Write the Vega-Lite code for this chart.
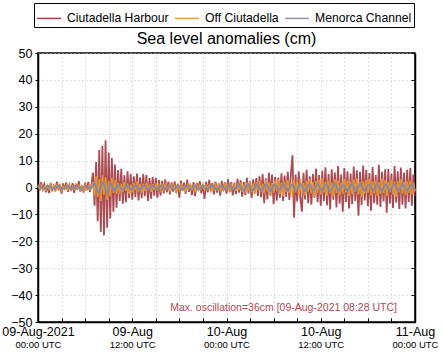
{
"$schema": "https://vega.github.io/schema/vega-lite/v6.json",
"width": 377, "height": 269,
"autosize": {"type": "none"},
"padding": {"left": 38, "top": 53, "right": 29, "bottom": 37},
"background": "white",
"config": {"font": "Liberation Sans", "view": {"stroke": "black", "strokeWidth": 1.5}},
"title": {"text": "Sea level anomalies (cm)", "fontSize": 16, "fontWeight": "normal", "color": "black", "anchor": "middle", "frame": "group", "offset": -44},
"datasets": {
"obs": [
{"h":0,"a":1.4,"b":0.6,"c":0.3},{"h":0.2,"a":-1.1,"b":-0.4,"c":0.6},{"h":0.4,"a":2.0,"b":0.9,"c":0.2},{"h":0.6,"a":-0.6,"b":-0.7,"c":-0.3},{"h":0.8,"a":1.2,"b":0.3,"c":-0.5},
{"h":1.0,"a":-1.8,"b":-0.9,"c":-0.1},{"h":1.2,"a":0.9,"b":0.8,"c":0.4},{"h":1.4,"a":-2.1,"b":-0.5,"c":0.5},{"h":1.6,"a":1.7,"b":1.0,"c":0.1},{"h":1.8,"a":-0.9,"b":-0.3,"c":-0.4},
{"h":2.0,"a":0.6,"b":0.5,"c":-0.6},{"h":2.2,"a":-1.4,"b":-0.8,"c":-0.2},{"h":2.4,"a":2.2,"b":0.7,"c":0.3},{"h":2.6,"a":-1.0,"b":-0.6,"c":0.7},{"h":2.8,"a":1.1,"b":0.9,"c":0.2},
{"h":3.0,"a":-2.3,"b":-1.0,"c":-0.3},{"h":3.2,"a":1.5,"b":0.4,"c":-0.5},{"h":3.4,"a":-0.7,"b":-0.5,"c":0.0},{"h":3.6,"a":1.9,"b":0.8,"c":0.4},{"h":3.8,"a":-1.6,"b":-0.7,"c":0.6},
{"h":4.0,"a":0.8,"b":0.6,"c":0.1},{"h":4.2,"a":-1.2,"b":-0.9,"c":-0.4},{"h":4.4,"a":1.6,"b":0.3,"c":-0.5},{"h":4.6,"a":-2.0,"b":-0.6,"c":-0.1},{"h":4.8,"a":1.3,"b":1.0,"c":0.5},
{"h":5.0,"a":-0.8,"b":-0.4,"c":0.4},{"h":5.2,"a":2.4,"b":0.7,"c":-0.2},{"h":5.4,"a":-1.5,"b":-0.8,"c":-0.6},{"h":5.6,"a":0.7,"b":0.5,"c":-0.3},{"h":5.8,"a":-1.9,"b":-1.1,"c":0.2},
{"h":6.0,"a":1.8,"b":0.9,"c":0.6},{"h":6.2,"a":-1.1,"b":-0.5,"c":0.3},{"h":6.4,"a":2.1,"b":0.6,"c":-0.2},{"h":6.6,"a":-1.7,"b":-0.7,"c":-0.5},{"h":6.8,"a":1.0,"b":0.4,"c":-0.1},
{"h":7.0,"a":5.5,"b":2.0,"c":0.8},{"h":7.2,"a":-6.8,"b":-3.0,"c":1.5},{"h":7.4,"a":9.5,"b":4.2,"c":0.2},{"h":7.6,"a":-12.5,"b":-3.5,"c":-1.4},{"h":7.8,"a":14.0,"b":3.0,"c":-1.8},
{"h":8.0,"a":-16.5,"b":-5.0,"c":0.4},{"h":8.2,"a":15.5,"b":4.5,"c":1.9},{"h":8.4,"a":-17.8,"b":-2.8,"c":1.2},{"h":8.6,"a":17.6,"b":3.8,"c":-0.8},{"h":8.8,"a":-15.0,"b":-4.6,"c":-1.9},
{"h":9.0,"a":13.0,"b":2.4,"c":-0.5},{"h":9.2,"a":-11.5,"b":-3.2,"c":1.4},{"h":9.4,"a":11.0,"b":3.6,"c":1.0},{"h":9.6,"a":-9.0,"b":-2.0,"c":-0.6},{"h":9.8,"a":8.5,"b":2.8,"c":-1.2},
{"h":10.0,"a":-7.5,"b":-2.4,"c":0.3},{"h":10.2,"a":6.5,"b":1.8,"c":0.9},{"h":10.4,"a":-5.0,"b":-2.2,"c":0.5},{"h":10.6,"a":7.0,"b":1.4,"c":-0.5},{"h":10.8,"a":-6.0,"b":-1.6,"c":-0.9},
{"h":11.0,"a":4.5,"b":2.0,"c":-0.2},{"h":11.2,"a":-5.5,"b":-1.2,"c":0.6},{"h":11.4,"a":6.0,"b":1.5,"c":0.8},{"h":11.6,"a":-4.0,"b":-2.4,"c":0.0},{"h":11.8,"a":5.0,"b":1.1,"c":-0.7},
{"h":12.0,"a":-4.5,"b":-1.8,"c":-0.6},{"h":12.2,"a":4.2,"b":1.6,"c":0.2},{"h":12.4,"a":-3.5,"b":-1.0,"c":0.8},{"h":12.6,"a":5.2,"b":2.2,"c":0.4},{"h":12.8,"a":-4.8,"b":-1.5,"c":-0.4},
{"h":13.0,"a":3.8,"b":1.2,"c":-0.8},{"h":13.2,"a":-4.0,"b":-1.9,"c":-0.1},{"h":13.4,"a":5.0,"b":1.4,"c":0.6},{"h":13.6,"a":-3.2,"b":-1.3,"c":0.7},{"h":13.8,"a":4.6,"b":1.8,"c":-0.1},
{"h":14.0,"a":-5.0,"b":-1.1,"c":-0.6},{"h":14.2,"a":3.5,"b":1.0,"c":-0.5},{"h":14.4,"a":-4.2,"b":-1.6,"c":0.3},{"h":14.6,"a":4.0,"b":1.3,"c":0.7},{"h":14.8,"a":-3.0,"b":-0.9,"c":0.2},
{"h":15.0,"a":3.6,"b":1.5,"c":-0.5},{"h":15.2,"a":-3.8,"b":-1.2,"c":-0.7},{"h":15.4,"a":2.8,"b":0.8,"c":0.0},{"h":15.6,"a":-3.0,"b":-1.0,"c":0.6},{"h":15.8,"a":2.5,"b":0.9,"c":0.5},
{"h":16.0,"a":-2.2,"b":-0.7,"c":-0.3},{"h":16.2,"a":3.0,"b":1.1,"c":-0.7},{"h":16.4,"a":-1.8,"b":-0.6,"c":-0.2},{"h":16.6,"a":2.2,"b":0.5,"c":0.4},{"h":16.8,"a":-2.6,"b":-1.2,"c":0.6},
{"h":17.0,"a":1.9,"b":0.8,"c":0.1},{"h":17.2,"a":-1.5,"b":-0.4,"c":-0.5},{"h":17.4,"a":2.3,"b":0.7,"c":-0.6},{"h":17.6,"a":-2.0,"b":-1.5,"c":0.1},{"h":17.8,"a":1.4,"b":0.6,"c":0.7},
{"h":18.0,"a":-3.8,"b":-0.9,"c":0.3},{"h":18.2,"a":2.6,"b":1.2,"c":-0.4},{"h":18.4,"a":-1.2,"b":-0.5,"c":-0.8},{"h":18.6,"a":1.8,"b":0.4,"c":-0.2},{"h":18.8,"a":-2.4,"b":-2.0,"c":0.5},
{"h":19.0,"a":2.9,"b":0.8,"c":0.6},{"h":19.2,"a":-1.6,"b":-0.6,"c":-0.1},{"h":19.4,"a":1.1,"b":1.0,"c":-0.6},{"h":19.6,"a":-2.8,"b":-0.7,"c":-0.4},{"h":19.8,"a":2.0,"b":0.5,"c":0.3},
{"h":20.0,"a":-3.2,"b":-1.8,"c":0.7},{"h":20.2,"a":1.7,"b":0.9,"c":0.2},{"h":20.4,"a":-1.0,"b":-0.8,"c":-0.5},{"h":20.6,"a":2.4,"b":0.6,"c":-0.7},{"h":20.8,"a":-2.2,"b":-0.4,"c":0.0},
{"h":21.0,"a":1.3,"b":1.1,"c":0.6},{"h":21.2,"a":-4.2,"b":-0.9,"c":0.5},{"h":21.4,"a":2.1,"b":0.7,"c":-0.3},{"h":21.6,"a":-1.8,"b":-0.5,"c":-0.6},{"h":21.8,"a":2.8,"b":0.8,"c":-0.1},
{"h":22.0,"a":-1.4,"b":-1.3,"c":0.5},{"h":22.2,"a":1.6,"b":0.4,"c":0.8},{"h":22.4,"a":-2.6,"b":-0.7,"c":0.2},{"h":22.6,"a":2.2,"b":1.0,"c":-0.4},{"h":22.8,"a":-1.9,"b":-0.6,"c":-0.8},
{"h":23.0,"a":1.5,"b":0.9,"c":-0.3},{"h":23.2,"a":-3.0,"b":-1.0,"c":0.4},{"h":23.4,"a":2.5,"b":0.5,"c":0.7},{"h":23.6,"a":-1.3,"b":-0.8,"c":0.1},{"h":23.8,"a":1.9,"b":1.2,"c":-0.5},
{"h":24.0,"a":-2.3,"b":-0.6,"c":-0.6},{"h":24.2,"a":3.1,"b":0.7,"c":0.2},{"h":24.4,"a":-1.7,"b":-1.1,"c":0.8},{"h":24.6,"a":2.0,"b":0.9,"c":0.4},{"h":24.8,"a":-2.9,"b":-0.5,"c":-0.4},
{"h":25.0,"a":1.8,"b":0.8,"c":-0.7},{"h":25.2,"a":-2.5,"b":-1.2,"c":-0.1},{"h":25.4,"a":3.2,"b":1.5,"c":0.7},{"h":25.6,"a":-1.9,"b":-0.9,"c":1.0},{"h":25.8,"a":2.7,"b":1.8,"c":0.2},
{"h":26.0,"a":-3.4,"b":-1.6,"c":-0.8},{"h":26.2,"a":2.1,"b":1.1,"c":-1.1},{"h":26.4,"a":-2.8,"b":-2.0,"c":-0.2},{"h":26.6,"a":3.6,"b":1.7,"c":0.9},{"h":26.8,"a":-2.2,"b":-1.3,"c":1.2},
{"h":27.0,"a":2.4,"b":2.2,"c":0.1},{"h":27.2,"a":-3.9,"b":-1.8,"c":-0.9},{"h":27.4,"a":3.0,"b":1.4,"c":-1.0},{"h":27.6,"a":-2.0,"b":-2.5,"c":0.0},{"h":27.8,"a":3.5,"b":1.9,"c":1.1},
{"h":28.0,"a":-3.1,"b":-1.1,"c":0.8},{"h":28.2,"a":4.2,"b":2.4,"c":-0.4},{"h":28.4,"a":-3.6,"b":-1.7,"c":-1.2},{"h":28.6,"a":5.0,"b":1.3,"c":-0.6},{"h":28.8,"a":-5.8,"b":-2.2,"c":0.5},
{"h":29.0,"a":3.4,"b":2.8,"c":1.2},{"h":29.2,"a":-4.4,"b":-1.5,"c":0.6},{"h":29.4,"a":5.6,"b":1.9,"c":-0.6},{"h":29.6,"a":-3.0,"b":-2.6,"c":-1.3},{"h":29.8,"a":4.8,"b":1.6,"c":-0.3},
{"h":30.0,"a":-6.2,"b":-2.0,"c":0.8},{"h":30.2,"a":4.0,"b":2.5,"c":1.1},{"h":30.4,"a":-4.9,"b":-1.4,"c":0.0},{"h":30.6,"a":3.7,"b":3.0,"c":-1.0},{"h":30.8,"a":-3.8,"b":-2.4,"c":-0.9},
{"h":31.0,"a":5.3,"b":1.8,"c":0.3},{"h":31.2,"a":-5.0,"b":-3.2,"c":1.3},{"h":31.4,"a":4.4,"b":2.2,"c":0.7},{"h":31.6,"a":-3.5,"b":-1.6,"c":-0.5},{"h":31.8,"a":5.8,"b":2.7,"c":-1.2},
{"h":32.0,"a":-4.6,"b":-2.1,"c":-0.4},{"h":32.2,"a":5.0,"b":1.5,"c":0.7},{"h":32.4,"a":12.0,"b":-3.6,"c":1.0},{"h":32.6,"a":-11.2,"b":2.9,"c":0.1},{"h":32.8,"a":4.8,"b":-1.8,"c":-1.1},
{"h":33.0,"a":-5.2,"b":2.3,"c":-0.8},{"h":33.2,"a":6.0,"b":-2.7,"c":0.4},{"h":33.4,"a":-4.0,"b":3.3,"c":1.4},{"h":33.6,"a":-9.0,"b":-2.0,"c":0.5},{"h":33.8,"a":5.5,"b":1.7,"c":-0.7},
{"h":34.0,"a":-4.4,"b":-2.9,"c":-1.3},{"h":34.2,"a":6.6,"b":2.6,"c":-0.2},{"h":34.4,"a":-5.8,"b":-1.5,"c":0.9},{"h":34.6,"a":4.2,"b":3.1,"c":1.1},{"h":34.8,"a":-6.4,"b":-2.3,"c":-0.1},
{"h":35.0,"a":5.0,"b":2.0,"c":-1.0},{"h":35.2,"a":-3.8,"b":-3.4,"c":-0.7},{"h":35.4,"a":7.0,"b":2.4,"c":0.5},{"h":35.6,"a":-5.5,"b":-1.9,"c":1.2},{"h":35.8,"a":4.6,"b":2.8,"c":0.4},
{"h":36.0,"a":-6.8,"b":-2.6,"c":-0.8},{"h":36.2,"a":6.2,"b":3.5,"c":-1.2},{"h":36.4,"a":-5.0,"b":-1.7,"c":0.0},{"h":36.6,"a":7.5,"b":2.1,"c":1.0},{"h":36.8,"a":-6.6,"b":-3.0,"c":0.9},
{"h":37.0,"a":5.0,"b":2.7,"c":-0.4},{"h":37.2,"a":-8.2,"b":-2.2,"c":-1.3},{"h":37.4,"a":6.8,"b":1.8,"c":-0.5},{"h":37.6,"a":-4.5,"b":-3.3,"c":0.6},{"h":37.8,"a":5.6,"b":3.0,"c":1.3},
{"h":38.0,"a":-7.4,"b":-2.0,"c":0.3},{"h":38.2,"a":8.0,"b":2.5,"c":-0.9},{"h":38.4,"a":-6.0,"b":-2.8,"c":-1.1},{"h":38.6,"a":4.8,"b":1.6,"c":0.2},{"h":38.8,"a":-9.0,"b":-2.4,"c":1.1},
{"h":39.0,"a":7.2,"b":3.2,"c":0.7},{"h":39.2,"a":-5.4,"b":-1.8,"c":-0.5},{"h":39.4,"a":6.0,"b":2.6,"c":-1.4},{"h":39.6,"a":-7.8,"b":-3.1,"c":-0.3},{"h":39.8,"a":5.2,"b":2.2,"c":0.8},
{"h":40.0,"a":-6.2,"b":-2.5,"c":1.2},{"h":40.2,"a":7.8,"b":2.9,"c":0.0},{"h":40.4,"a":-5.0,"b":-1.6,"c":-1.0},{"h":40.6,"a":6.4,"b":3.4,"c":-0.8},{"h":40.8,"a":-10.5,"b":-2.7,"c":0.4},
{"h":41.0,"a":5.8,"b":2.0,"c":1.3},{"h":41.2,"a":-6.6,"b":-3.5,"c":0.6},{"h":41.4,"a":8.2,"b":2.4,"c":-0.7},{"h":41.6,"a":-4.8,"b":-2.1,"c":-1.2},{"h":41.8,"a":6.6,"b":2.8,"c":-0.1},
{"h":42.0,"a":-7.0,"b":-1.9,"c":0.9},{"h":42.2,"a":5.4,"b":3.1,"c":1.0},{"h":42.4,"a":-8.6,"b":-2.9,"c":-0.2},{"h":42.6,"a":7.6,"b":2.3,"c":-1.1},{"h":42.8,"a":-5.8,"b":-2.2,"c":-0.6},
{"h":43.0,"a":4.6,"b":2.6,"c":0.5},{"h":43.2,"a":-6.4,"b":-3.0,"c":1.2},{"h":43.4,"a":8.4,"b":1.9,"c":0.4},{"h":43.6,"a":-7.2,"b":-2.4,"c":-0.8},{"h":43.8,"a":5.8,"b":3.3,"c":-1.3},
{"h":44.0,"a":-5.2,"b":-2.0,"c":0.0},{"h":44.2,"a":6.8,"b":2.7,"c":1.0},{"h":44.4,"a":-9.4,"b":-3.2,"c":0.8},{"h":44.6,"a":7.0,"b":2.1,"c":-0.5},{"h":44.8,"a":-6.0,"b":-1.7,"c":-1.2},
{"h":45.0,"a":5.2,"b":2.9,"c":-0.3},{"h":45.2,"a":-7.6,"b":-2.6,"c":0.7},{"h":45.4,"a":8.0,"b":2.2,"c":1.1},{"h":45.6,"a":-5.6,"b":-3.4,"c":0.1},{"h":45.8,"a":6.0,"b":2.5,"c":-0.9},
{"h":46.0,"a":-8.0,"b":-1.8,"c":-1.0},{"h":46.2,"a":7.4,"b":3.0,"c":0.3},{"h":46.4,"a":-6.4,"b":-2.3,"c":1.2},{"h":46.6,"a":5.6,"b":2.0,"c":0.5},{"h":46.8,"a":-7.8,"b":-2.8,"c":-0.7},
{"h":47.0,"a":6.6,"b":2.4,"c":-1.1},{"h":47.2,"a":-5.4,"b":-1.9,"c":-0.2},{"h":47.4,"a":7.2,"b":2.6,"c":0.8},{"h":47.6,"a":-6.8,"b":-2.5,"c":0.9},{"h":47.8,"a":4.8,"b":1.8,"c":-0.3},
{"h":48.0,"a":-3.2,"b":-1.5,"c":-0.6}
],
"note": [{"h": 45.7, "v": -44.8, "label": "Max. oscillation=36cm [09-Aug-2021 08:28 UTC]"}]
},
"layer": [
{
"data": {"name": "obs"},
"transform": [{"fold": ["a", "b", "c"], "as": ["series", "value"]}, {"filter": "datum.series == 'a'"}],
"mark": {"type": "line", "opacity": 0.85, "strokeWidth": 1.8},
"encoding": {
"x": {"field": "h", "type": "quantitative", "scale": {"domain": [0, 48], "nice": false, "zero": false},
"axis": {"title": null, "values": [0,3,6,9,12,15,18,21,24,27,30,33,36,39,42,45,48],
"labelExpr": "datum.value == 0 ? '09-Aug-2021' : datum.value == 12 ? '09-Aug' : (datum.value == 24 || datum.value == 36) ? '10-Aug' : datum.value == 48 ? '11-Aug' : ''",
"grid": true, "gridColor": "#bcbcbc", "gridDash": [1, 3], "gridWidth": 1,
"domain": true, "domainColor": "black", "domainWidth": 1.5,
"ticks": true, "tickColor": "black", "tickSize": -4, "tickWidth": 1,
"labelFontSize": 12.5, "labelColor": "black", "labelPadding": 7, "labelFlush": false, "labelOverlap": false}},
"y": {"field": "value", "type": "quantitative", "scale": {"domain": [-50, 50], "nice": false},
"axis": {"title": null, "values": [-50,-40,-30,-20,-10,0,10,20,30,40,50],
"grid": true, "gridColor": "#bcbcbc", "gridDash": [1, 3], "gridWidth": 1,
"domain": true, "domainColor": "black", "domainWidth": 1.5,
"ticks": true, "tickColor": "black", "tickSize": 3,
"labelFontSize": 12.5, "labelColor": "black", "labelPadding": 3}},
"color": {"field": "series", "type": "nominal",
"scale": {"domain": ["a", "b", "c"], "range": ["#9c2c34", "#e8962e", "#8288aa"]},
"legend": {"orient": "none", "legendX": -4, "legendY": -50, "direction": "horizontal", "title": null,
"strokeColor": "black", "fillColor": "white", "padding": 2,
"symbolType": "stroke", "symbolSize": 576, "symbolStrokeWidth": 1.5, "symbolOpacity": 0.55,
"labelFontSize": 12.2, "labelColor": "black", "labelOffset": 5, "columnPadding": 3,
"labelExpr": "datum.label == 'a' ? 'Ciutadella Harbour' : datum.label == 'b' ? 'Off Ciutadella' : 'Menorca Channel'"}}
}
},
{
"data": {"name": "obs"},
"transform": [{"fold": ["a", "b", "c"], "as": ["series", "value"]}, {"filter": "datum.series == 'b'"}],
"mark": {"type": "line", "opacity": 0.9, "strokeWidth": 1.8},
"encoding": {
"x": {"field": "h", "type": "quantitative", "axis": null},
"y": {"field": "value", "type": "quantitative", "axis": null},
"color": {"field": "series", "type": "nominal"}
}
},
{
"data": {"name": "obs"},
"transform": [{"fold": ["a", "b", "c"], "as": ["series", "value"]}, {"filter": "datum.series == 'c'"}],
"mark": {"type": "line", "opacity": 0.95, "strokeWidth": 2},
"encoding": {
"x": {"field": "h", "type": "quantitative", "axis": null},
"y": {"field": "value", "type": "quantitative", "axis": null},
"color": {"field": "series", "type": "nominal"}
}
},
{
"data": {"name": "note"},
"mark": {"type": "text", "align": "right", "baseline": "middle", "fontSize": 10.5, "color": "#b5474d"},
"encoding": {
"x": {"field": "h", "type": "quantitative",
"axis": {"orient": "bottom", "title": null, "values": [0, 12, 24, 36, 48],
"labelExpr": "datum.value % 24 == 0 ? '00:00 UTC' : '12:00 UTC'",
"grid": false, "domain": false, "ticks": false,
"labelFontSize": 9.5, "labelColor": "black", "labelPadding": 17, "labelFlush": false, "labelOverlap": false}},
"y": {"field": "v", "type": "quantitative",
"axis": {"orient": "right", "title": null, "values": [-50,-40,-30,-20,-10,0,10,20,30,40,50],
"labels": false, "grid": false, "domain": true, "domainColor": "black", "domainWidth": 1.5,
"ticks": true, "tickColor": "black", "tickSize": -4}},
"text": {"field": "label"}
}
}
],
"resolve": {"axis": {"x": "independent", "y": "independent"}}
}
